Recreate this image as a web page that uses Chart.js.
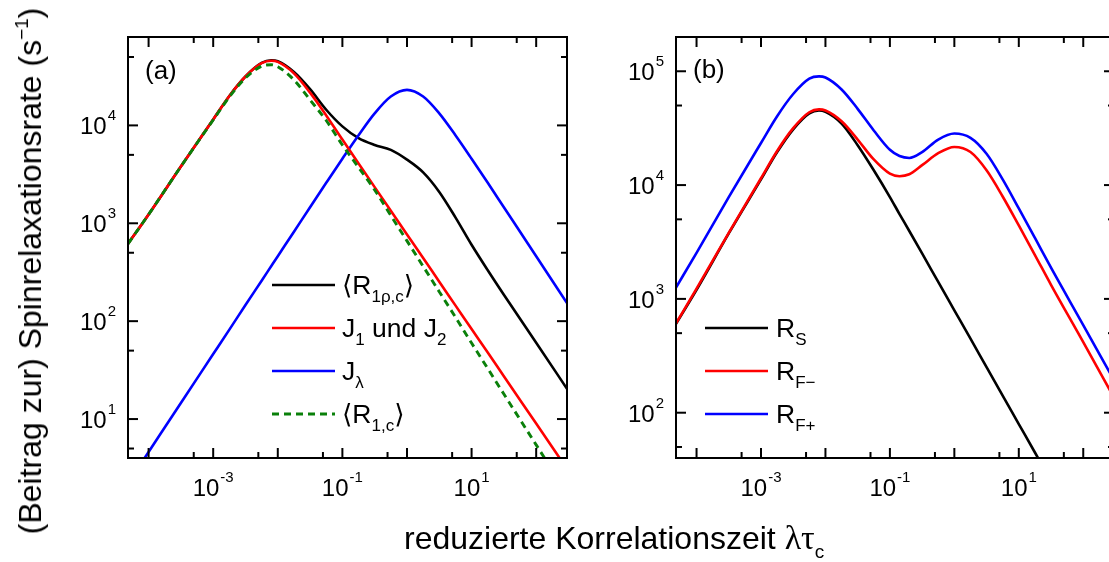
<!DOCTYPE html>
<html>
<head>
<meta charset="utf-8">
<script src="https://cdn.jsdelivr.net/npm/chart.js@4.4.1/dist/chart.umd.min.js"></script>
<style>
  html, body { margin: 0; padding: 0; background: #fff; overflow: hidden; }
  #wrap { position: relative; width: 1109px; height: 562px; overflow: hidden; background: #fff;
          font-family: "Liberation Sans", Arial, sans-serif; color: #000; }
  #chartA { position: absolute; left: 0; top: 0; }
  #chartB { position: absolute; left: 600px; top: 0; }
  #ytitle { position: absolute; left: 30px; top: 271px; white-space: nowrap; font-size: 32px; line-height: 1;
            transform: translate(-50%, -50%) rotate(-90deg); }
  #ytitle sup { font-size: 19px; vertical-align: 13px; line-height: 0; }
  #xtitle { position: absolute; left: 404px; top: 521px; white-space: nowrap; font-size: 32px; line-height: 1; }
  #xtitle .gr { font-family: "Liberation Serif", "DejaVu Serif", serif; font-size: 34px; }
  #xtitle sub { font-size: 19px; vertical-align: -9px; line-height: 0; }
</style>
</head>
<body>
<div id="wrap">
  <canvas id="chartA" width="600" height="562"></canvas>
  <canvas id="chartB" width="530" height="562"></canvas>
  <div id="ytitle">(Beitrag zur) Spinrelaxationsrate (s<sup>−1</sup>)</div>
  <div id="xtitle">reduzierte Korrelationszeit <span class="gr">λτ</span><sub>c</sub></div>
</div>
<script>
// ---- panel (a): reduced correlation time and rate contributions ----
const tauA = [4.8e-5, 1e-4, 3.16e-4, 1e-3, 1.78e-3, 3.16e-3, 5.62e-3, 7.94e-3, 1e-2, 1.78e-2,
              3.16e-2, 5.62e-2, 0.1, 0.178, 0.316, 0.562, 1, 1.78, 3.16, 5.62, 10, 17.8, 31.6, 100, 300];
const r1rhoA = [617, 1230, 3800, 11500, 20000, 31600, 43450, 46240, 45190, 35080,
                23440, 14450, 9770, 7410, 6310, 5620, 4470, 3310, 2090, 1150, 603, 331, 186, 60.3, 20.4];
const j12A = [617, 1230, 3800, 11500, 20000, 31600, 43200, 45700, 44500, 34000,
              21600, 12650, 7160, 4090, 2340, 1340, 769, 442, 253, 145, 83, 47.9, 27.4, 9.0, 3.1];
const jLambdaA = [2.21, 4.61, 14.6, 46.1, 82, 146, 259, 366, 461, 820,
                  1459, 2590, 4570, 7940, 13270, 19720, 23070, 19720, 13270, 7940, 4570, 2590, 1459, 461, 153];
const r1cA = [617, 1230, 3800, 11350, 19500, 30550, 40270, 41700, 39800, 29170,
              18200, 11220, 6310, 3720, 2190, 1200, 661, 363, 200, 110, 59.7, 32.8, 18.0, 5.45, 1.74];

// ---- panel (b) ----
const tauB = [4.8e-5, 1e-4, 3.16e-4, 1e-3, 1.78e-3, 3.16e-3, 5.62e-3, 7.94e-3, 1e-2, 1.78e-2,
              3.16e-2, 5.62e-2, 0.1, 0.141, 0.2, 0.316, 0.562, 1, 1.78, 3.16, 5.62, 10, 17.8, 31.6, 100, 300];
const rsB = [603, 1200, 3760, 11220, 19500, 30900, 42660, 45190, 43950, 34670,
             22390, 13490, 7850, 5560, 3950, 2510, 1410, 794, 447, 251, 141, 79.4, 44.7, 25.1, 7.94, 2.63];
const rfMinusB = [610, 1230, 3800, 11480, 19950, 31620, 43650, 46240, 45190, 36310,
                  25120, 16790, 12590, 11970, 12450, 14960, 19050, 21630, 19500, 13490, 7940, 4420, 2430, 1330, 417, 136];
const rfPlusB = [1259, 2540, 7850, 23440, 40270, 63100, 86100, 90160, 88100, 69180,
                 46770, 30200, 20420, 17990, 17300, 19500, 25120, 28380, 26000, 18840, 11220, 6240, 3430, 1880, 589, 193];

// axis ranges and labelled decades
const xRange = [4.8e-5, 300];
const yRangeA = [4, 8e4];
const yRangeB = [40, 2e5];
const xLabelExps = [-3, -1, 1];
const yLabelExpsA = [1, 2, 3, 4];
const yLabelExpsB = [2, 3, 4, 5];

// legend texts: runs of normal and subscript text
const legendA = [
  [{ t: '⟨R' }, { t: '1ρ,c', sub: true }, { t: '⟩' }],
  [{ t: 'J' }, { t: '1', sub: true }, { t: ' und J' }, { t: '2', sub: true }],
  [{ t: 'J' }, { t: 'λ', sub: true }],
  [{ t: '⟨R' }, { t: '1,c', sub: true }, { t: '⟩' }]
];
const legendB = [
  [{ t: 'R' }, { t: 'S', sub: true }],
  [{ t: 'R' }, { t: 'F−', sub: true }],
  [{ t: 'R' }, { t: 'F+', sub: true }]
];

const BLACK = '#000000', RED = '#ff0000', BLUE = '#0000ff', GREEN = '#0a800a';
const FONT = '"Liberation Sans", "DejaVu Sans", Arial, sans-serif';

function series(xs, ys, color, order, dash) {
  return {
    data: xs.map((x, i) => ({ x: x, y: ys[i] })),
    borderColor: color, borderWidth: dash ? 2.9 : 2.6, borderDash: dash || [],
    pointRadius: 0, fill: false, cubicInterpolationMode: 'monotone', order: order
  };
}

function decadesIn(min, max) {
  const out = [];
  for (let e = Math.floor(Math.log10(min)); e <= Math.ceil(Math.log10(max)); e++) out.push(e);
  return out;
}

function drawPow(ctx, exp, x, yBase, align) {
  const main = '10', sup = String(exp);
  ctx.font = '24px ' + FONT; const w1 = ctx.measureText(main).width;
  ctx.font = '15px ' + FONT; const w2 = ctx.measureText(sup).width;
  const total = w1 + 1 + w2;
  const x0 = align === 'center' ? x - total / 2 : x - total;
  ctx.textAlign = 'left'; ctx.textBaseline = 'alphabetic';
  ctx.font = '24px ' + FONT; ctx.fillText(main, x0, yBase);
  ctx.font = '15px ' + FONT; ctx.fillText(sup, x0 + w1 + 1, yBase - 14);
}

function drawRuns(ctx, runs, x, yBase) {
  let cx = x;
  runs.forEach(r => {
    ctx.font = (r.sub ? '17px ' : '26.5px ') + FONT;
    ctx.fillText(r.t, cx, yBase + (r.sub ? 8 : 0));
    cx += ctx.measureText(r.t).width;
  });
}

// frame, inward ticks on all four sides, tick labels, panel tag and legend
const framePlugin = {
  id: 'frame',
  afterDatasetsDraw(chart, args, o) {
    const { ctx, chartArea: a, scales: { x, y } } = chart;
    ctx.save();
    ctx.strokeStyle = '#000'; ctx.fillStyle = '#000'; ctx.lineWidth = 2;
    ctx.lineCap = 'butt';
    ctx.strokeRect(a.left, a.top, a.right - a.left, a.bottom - a.top);

    const tick = (x1, y1, x2, y2) => { ctx.beginPath(); ctx.moveTo(x1, y1); ctx.lineTo(x2, y2); ctx.stroke(); };
    const inside = (p, lo, hi) => p > lo + 3 && p < hi - 3;

    decadesIn(x.min, x.max).forEach(e => {
      [[Math.pow(10, e), 10], [5 * Math.pow(10, e), 6]].forEach(([v, len]) => {
        const px = x.getPixelForValue(v);
        if (!inside(px, a.left, a.right)) return;
        tick(px, a.bottom, px, a.bottom - len);
        tick(px, a.top, px, a.top + len);
      });
    });
    decadesIn(y.min, y.max).forEach(e => {
      [[Math.pow(10, e), 10], [5 * Math.pow(10, e), 6]].forEach(([v, len]) => {
        const py = y.getPixelForValue(v);
        if (!inside(py, a.top, a.bottom)) return;
        tick(a.left, py, a.left + len, py);
        tick(a.right, py, a.right - len, py);
      });
    });

    o.xLabels.forEach(e => drawPow(ctx, e, x.getPixelForValue(Math.pow(10, e)), a.bottom + 38, 'center'));
    o.yLabels.forEach(e => drawPow(ctx, e, a.left - 12, y.getPixelForValue(Math.pow(10, e)) + 9, 'right'));

    ctx.font = '26px ' + FONT; ctx.textAlign = 'left';
    ctx.fillText(o.tag, o.tagX, o.tagY);

    o.legend.forEach((runs, i) => {
      const ly = o.legY0 + i * o.legDy;
      const ds = chart.data.datasets[o.legOrder[i]];
      ctx.strokeStyle = ds.borderColor; ctx.lineWidth = ds.borderWidth;
      ctx.setLineDash(ds.borderDash || []);
      tick(o.legX0, ly, o.legX1, ly);
      ctx.setLineDash([]);
      ctx.fillStyle = '#000';
      drawRuns(ctx, runs, o.legTx, ly + 9);
    });
    ctx.restore();
  }
};

function makeChart(id, datasets, yRange, pad, frameOpts) {
  return new Chart(document.getElementById(id), {
    type: 'line',
    data: { datasets: datasets },
    options: {
      responsive: false, animation: false,
      layout: { padding: pad },
      plugins: { legend: { display: false }, tooltip: { enabled: false }, frame: frameOpts },
      scales: {
        x: { type: 'logarithmic', min: xRange[0], max: xRange[1], display: false },
        y: { type: 'logarithmic', min: yRange[0], max: yRange[1], display: false }
      }
    },
    plugins: [framePlugin]
  });
}

makeChart('chartA', [
  series(tauA, r1rhoA, BLACK, 3),
  series(tauA, j12A, RED, 1),
  series(tauA, jLambdaA, BLUE, 2),
  series(tauA, r1cA, GREEN, 0, [7, 5])
], yRangeA, { left: 128, right: 33, top: 37, bottom: 104 }, {
  xLabels: xLabelExps, yLabels: yLabelExpsA, tag: '(a)', tagX: 145, tagY: 79,
  legend: legendA, legOrder: [0, 1, 2, 3], legX0: 272, legX1: 335, legTx: 342, legY0: 285, legDy: 43
});

makeChart('chartB', [
  series(tauB, rsB, BLACK, 2),
  series(tauB, rfMinusB, RED, 1),
  series(tauB, rfPlusB, BLUE, 0)
], yRangeB, { left: 76, right: 16, top: 37, bottom: 104 }, {
  xLabels: xLabelExps, yLabels: yLabelExpsB, tag: '(b)', tagX: 93, tagY: 78,
  legend: legendB, legOrder: [0, 1, 2], legX0: 105, legX1: 168, legTx: 176, legY0: 328, legDy: 43
});
</script>
</body>
</html>
